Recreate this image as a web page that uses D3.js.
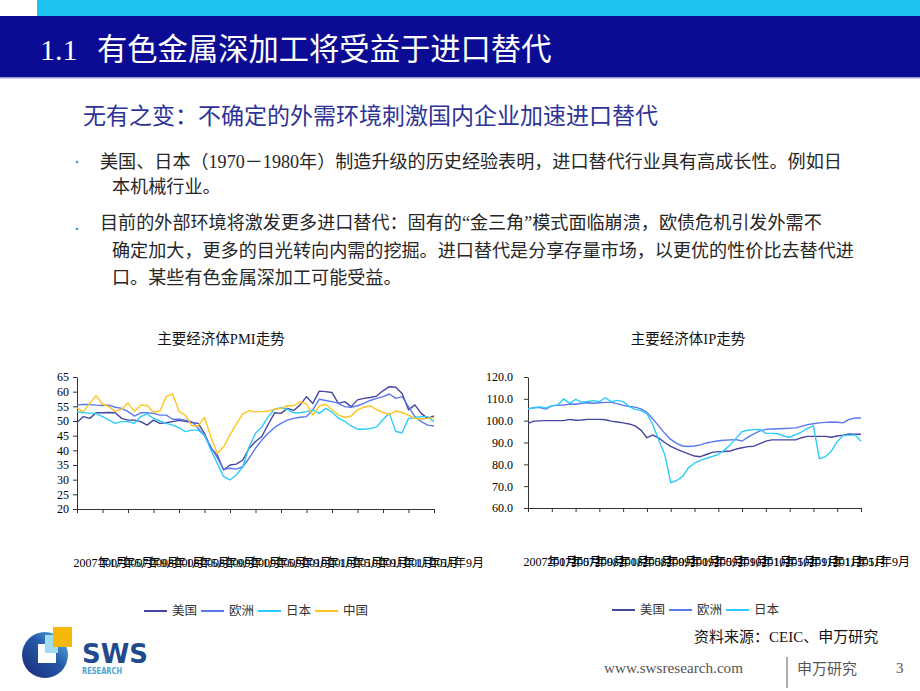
<!DOCTYPE html>
<html lang="zh-CN">
<head>
<meta charset="utf-8">
<script src="https://cdn.jsdelivr.net/npm/d3@7"></script>
<style>
body { margin: 0; background: #fff; }
svg { display: block; }
</style>
</head>
<body>
<div class="container"></div>
<script>
const WIDTH = 920;
const HEIGHT = 691;
const SERIF = '"Liberation Serif", "Noto Sans CJK SC", serif';
const CJK = '"Noto Sans CJK SC", "Liberation Serif", sans-serif';

var seriesNames = ['美国', '欧洲', '日本', '中国'];
var seriesColors = ['#4646a2', '#5a78ee', '#2ccbfb', '#ffc41f'];

// tick labels on the month axis, one every 4 months (2007-01 .. 2011-09)
var xTickLabels = ['2007年1月', '2007年5月', '2007年9月', '2008年1月', '2008年5月',
  '2008年9月', '2009年1月', '2009年5月', '2009年9月', '2010年1月', '2010年5月',
  '2010年9月', '2011年1月', '2011年5月', '2011年9月'];
var pmiTicks = [20, 25, 30, 35, 40, 45, 50, 55, 60, 65];
var ipTicks = [60, 70, 80, 90, 100, 110, 120];

// monthly PMI, 2007-01 .. 2011-09
var pmiUS = [49.5, 51.5, 50.9, 52.8, 52.8, 52.9, 52.8, 50.9, 50.3, 50.3, 49.8, 48.6,
  50.3, 49.2, 49.4, 49.8, 50.2, 49.9, 49.5, 49.2, 45.8, 40.7, 38.4, 33.3,
  35.0, 35.3, 36.7, 40.7, 43.0, 44.7, 48.9, 52.8, 52.6, 54.3, 53.6, 55.5,
  58.3, 56.0, 60.2, 60.0, 59.7, 56.0, 56.6, 54.9, 57.2, 57.7, 58.0, 58.5,
  60.3, 61.7, 61.5, 59.4, 53.8, 55.5, 52.6, 50.9, 51.7];
var pmiEU = [55.5, 55.6, 55.6, 55.4, 55.3, 55.4, 54.7, 54.3, 53.2, 51.7, 52.8, 52.8,
  52.6, 52.0, 52.0, 50.6, 50.6, 50.3, 49.8, 47.5, 45.0, 41.2, 37.5, 33.5,
  33.9, 33.6, 34.4, 37.3, 40.7, 43.5, 45.8, 47.8, 49.2, 50.3, 50.9, 51.3,
  51.5, 53.8, 57.4, 57.0, 56.6, 56.0, 54.9, 54.7, 55.2, 56.0, 57.0, 57.7,
  58.3, 59.2, 57.7, 58.3, 54.9, 51.5, 49.8, 48.6, 48.3];
var pmiJP = [53.2, 52.8, 52.7, 52.6, 51.5, 50.3, 49.2, 49.8, 49.8, 49.2, 51.5, 52.4,
  50.9, 50.0, 49.2, 48.6, 47.7, 46.4, 46.9, 46.9, 45.2, 40.1, 35.6, 31.0,
  29.9, 31.6, 34.4, 41.2, 45.8, 48.0, 51.5, 54.0, 54.5, 54.0, 52.8, 52.8,
  53.2, 53.7, 52.6, 54.3, 53.0, 51.0, 49.9, 48.3, 47.2, 47.2, 47.4, 47.9,
  50.5, 52.6, 46.4, 46.0, 50.9, 51.2, 51.5, 51.5, 49.8];
var pmiCN = [54.5, 53.1, 56.1, 58.6, 55.8, 54.9, 53.3, 54.0, 56.1, 53.2, 55.4, 55.3,
  53.0, 53.4, 58.4, 59.2, 53.3, 52.0, 48.4, 48.4, 51.2, 44.6, 38.8, 41.2,
  45.3, 49.0, 52.4, 53.5, 53.1, 53.2, 53.3, 54.0, 54.3, 55.2, 55.2, 56.6,
  55.8, 52.0, 55.1, 55.7, 53.9, 52.1, 51.2, 51.7, 53.8, 54.7, 55.2, 53.9,
  52.9, 52.2, 53.4, 52.9, 52.0, 50.9, 50.7, 50.9, 51.2];

// monthly industrial production index, 2007-01 .. 2011-09
var ipUS = [98.8, 99.8, 99.9, 100.0, 100.0, 100.0, 100.0, 100.6, 100.2, 100.3, 100.6, 100.6,
  100.6, 100.4, 99.8, 99.4, 99.0, 98.5, 97.6, 95.7, 92.2, 93.4, 92.0, 90.0,
  88.2, 87.0, 85.8, 84.8, 83.8, 83.5, 84.5, 85.5, 85.8, 85.9, 86.1, 87.0,
  87.6, 88.1, 88.3, 89.5, 90.6, 91.2, 91.2, 91.2, 91.2, 91.2, 92.2, 92.8,
  92.8, 92.8, 92.8, 92.4, 93.0, 93.4, 93.9, 93.8, 93.8];
var ipEU = [105.4, 106.0, 106.0, 105.3, 106.8, 107.0, 107.2, 107.6, 107.5, 108.0, 108.2, 108.0,
  108.2, 108.4, 108.4, 107.8, 107.0, 106.5, 106.2, 105.4, 103.8, 100.8, 97.5, 94.2,
  91.4, 89.6, 88.4, 88.2, 88.4, 88.9, 89.8, 90.3, 90.8, 91.0, 91.2, 91.3,
  90.7, 92.5, 94.0, 95.3, 96.0, 96.2, 96.3, 96.4, 96.5, 96.7, 97.4, 98.2,
  98.6, 99.0, 99.2, 99.4, 99.3, 99.0, 100.6, 101.2, 101.2];
var ipJP = [105.5, 105.8, 106.3, 105.8, 106.8, 107.2, 110.0, 107.9, 109.8, 108.5, 108.8, 109.2,
  108.7, 110.5, 108.7, 109.3, 108.7, 106.6, 105.2, 104.6, 103.2, 98.0, 91.0, 84.5,
  71.6, 72.6, 74.5, 78.5, 80.5, 81.8, 82.8, 83.6, 84.6, 86.5, 88.9, 92.0,
  95.0, 95.6, 95.9, 96.0, 94.2, 94.2, 94.0, 93.0, 92.4, 93.6, 94.8, 96.5,
  97.6, 82.5, 83.5, 86.0, 90.4, 93.2, 93.4, 93.5, 90.6];

var bodyLines = [
  '美国、日本（1970－1980年）制造升级的历史经验表明，进口替代行业具有高成长性。例如日',
  '本机械行业。',
  '目前的外部环境将激发更多进口替代：固有的“金三角”模式面临崩溃，欧债危机引发外需不',
  '确定加大，更多的目光转向内需的挖掘。进口替代是分享存量市场，以更优的性价比去替代进',
  '口。某些有色金属深加工可能受益。'
];

var translate = function (x, y) {
  return 'translate(' + x + ',' + y + ')';
};

var addText = function (svg, x, y, str, size, opts) {
  opts = opts || {};
  return svg.append('text')
    .attr('x', x)
    .attr('y', y)
    .attr('font-size', size)
    .attr('font-family', opts.family || SERIF)
    .attr('fill', opts.fill || '#111')
    .attr('text-anchor', opts.anchor || 'start')
    .text(str);
};

var styleAxis = function (g) {
  g.attr('font-family', SERIF).attr('font-size', 12);
  g.selectAll('path, line').attr('stroke', '#333').attr('stroke-width', 1);
  g.selectAll('text').attr('fill', '#000');
};

var drawChart = function (svg, opt) {
  var n = opt.series[0].length;
  var x = d3.scaleLinear()
    .domain([0, n - 1])
    .range([opt.left, opt.right]);
  var y = d3.scaleLinear()
    .domain([opt.ticks[0], opt.ticks[opt.ticks.length - 1]])
    .range([opt.bottom, opt.top]);

  addText(svg, opt.titleX, 344, opt.title, 14.5, {anchor: 'middle', family: SERIF});

  var yAxis = d3.axisLeft(y)
    .tickValues(opt.ticks)
    .tickSize(4)
    .tickSizeOuter(0)
    .tickPadding(opt.pad)
    .tickFormat(opt.fmt);
  svg.append('g')
    .attr('transform', translate(opt.left, 0))
    .call(yAxis)
    .call(styleAxis);

  var xAxis = d3.axisBottom(x)
    .tickValues(d3.range(0, n, 4))
    .tickSize(4)
    .tickSizeOuter(0)
    .tickFormat(function (d, i) { return xTickLabels[i]; });
  var gx = svg.append('g')
    .attr('transform', translate(0, opt.bottom))
    .call(xAxis)
    .call(styleAxis);
  gx.selectAll('text')
    .attr('text-anchor', 'start')
    .attr('x', opt.labelDx)
    .attr('y', 58)
    .attr('dy', null);

  var line = d3.line()
    .x(function (d, i) { return x(i); })
    .y(function (d) { return y(d); });

  opt.series.forEach(function (s, k) {
    svg.append('path')
      .attr('d', line(s))
      .attr('fill', 'none')
      .attr('stroke', seriesColors[k])
      .attr('stroke-width', 1.4)
      .attr('stroke-linejoin', 'round');
  });

  // legend
  var lg = svg.append('g').attr('transform', translate(opt.legendX, opt.legendY));
  opt.series.forEach(function (s, k) {
    var ox = k * opt.legendStep;
    lg.append('line')
      .attr('x1', ox).attr('x2', ox + 23)
      .attr('y1', -4).attr('y2', -4)
      .attr('stroke', seriesColors[k])
      .attr('stroke-width', 2);
    addText(lg, ox + 28, 0, seriesNames[k], 12.5, {family: CJK, fill: '#333'});
  });
};

var drawHeader = function (svg) {
  svg.append('rect').attr('x', 37).attr('y', 0).attr('width', WIDTH - 37).attr('height', 16)
    .attr('fill', '#1fc1ef');
  svg.append('rect').attr('x', 0).attr('y', 16).attr('width', WIDTH).attr('height', 61)
    .attr('fill', '#0b0b93');
  svg.append('rect').attr('x', 0).attr('y', 77).attr('width', WIDTH).attr('height', 1.5)
    .attr('fill', '#9a9ad0');
  addText(svg, 40, 60, '1.1', 30, {fill: '#fff'});
  addText(svg, 97, 60, '有色金属深加工将受益于进口替代', 30.3, {fill: '#fff', family: CJK});
};

var drawBody = function (svg) {
  addText(svg, 83, 124, '无有之变：不确定的外需环境刺激国内企业加速进口替代', 23,
    {fill: '#2d3396', family: CJK});
  var ys = [168, 193, 229, 257, 284];
  var xs = [100, 112, 100, 112, 112];
  bodyLines.forEach(function (t, i) {
    addText(svg, xs[i], ys[i], t, 18.1, {fill: '#262626'});
  });
  [162, 229].forEach(function (by) {
    svg.append('circle').attr('cx', 77).attr('cy', by).attr('r', 1.3).attr('fill', '#3aa0d6');
  });
};

var drawFooter = function (svg) {
  addText(svg, 694, 642, '资料来源：CEIC、申万研究', 15, {fill: '#111'});
  addText(svg, 604, 673, 'www.swsresearch.com', 15.2, {fill: '#555'});
  svg.append('line').attr('x1', 787).attr('x2', 787).attr('y1', 657).attr('y2', 688)
    .attr('stroke', '#777').attr('stroke-width', 1.2);
  addText(svg, 797, 674, '申万研究', 15, {fill: '#555', family: CJK});
  addText(svg, 896, 673, '3', 15, {fill: '#555'});

  // logo
  var defs = svg.append('defs');
  var grad = defs.append('linearGradient').attr('id', 'logoGrad')
    .attr('x1', '0%').attr('y1', '100%').attr('x2', '100%').attr('y2', '0%');
  grad.append('stop').attr('offset', '0%').attr('stop-color', '#1a2a78');
  grad.append('stop').attr('offset', '55%').attr('stop-color', '#2457a8');
  grad.append('stop').attr('offset', '100%').attr('stop-color', '#5cc0ea');
  var logo = svg.append('g');
  logo.append('circle').attr('cx', 45).attr('cy', 655).attr('r', 23).attr('fill', 'url(#logoGrad)');
  logo.append('rect').attr('x', 45).attr('y', 635).attr('width', 13).attr('height', 18)
    .attr('fill', '#9fdcf4');
  logo.append('path').attr('d', 'M38,644 L45,644 L45,653 L56,653 L56,663 L38,663 Z')
    .attr('fill', '#fff');
  logo.append('rect').attr('x', 53).attr('y', 627).attr('width', 19).attr('height', 20)
    .attr('fill', '#f7b80c');
  logo.append('text').attr('x', 82).attr('y', 663)
    .attr('font-family', '"DejaVu Sans", sans-serif').attr('font-weight', 'bold')
    .attr('font-size', 27).attr('fill', '#1f4a8e')
    .attr('textLength', 66).attr('lengthAdjust', 'spacingAndGlyphs')
    .text('SWS');
  logo.append('text').attr('x', 82).attr('y', 674)
    .attr('font-family', '"DejaVu Sans", sans-serif').attr('font-weight', 'bold')
    .attr('font-size', 8).attr('fill', '#4ba3d3')
    .attr('textLength', 40).attr('lengthAdjust', 'spacingAndGlyphs')
    .text('RESEARCH');
};

var execute = function () {
  var svg = d3.select('.container').append('svg')
    .attr('width', WIDTH)
    .attr('height', HEIGHT);

  drawHeader(svg);
  drawBody(svg);

  drawChart(svg, {
    title: '主要经济体PMI走势',
    titleX: 221,
    series: [pmiUS, pmiEU, pmiJP, pmiCN],
    ticks: pmiTicks,
    fmt: d3.format('d'),
    pad: 4,
    left: 77, right: 434, top: 377, bottom: 509,
    labelDx: -4,
    legendX: 144, legendY: 615, legendStep: 57
  });

  drawChart(svg, {
    title: '主要经济体IP走势',
    titleX: 688,
    series: [ipUS, ipEU, ipJP],
    ticks: ipTicks,
    fmt: d3.format('.1f'),
    pad: 11,
    left: 528, right: 861, top: 377, bottom: 508,
    labelDx: -5,
    legendX: 612, legendY: 614, legendStep: 57
  });

  drawFooter(svg);
};

window.onload = execute;
</script>
</body>
</html>
